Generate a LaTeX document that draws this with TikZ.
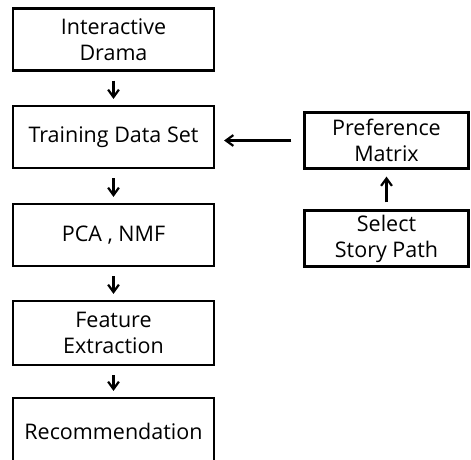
\documentclass[tikz,border=0pt]{standalone}
\usepackage{fontspec}
\setmainfont{Open Sans}
\usepackage{tikz}
\usetikzlibrary{arrows.meta,positioning}
\definecolor{ink}{RGB}{0,0,0}
\tikzset{
  blk/.style={draw=ink,line width=2.2pt,align=center,inner sep=0pt,
    font=\fontsize{21.5}{26}\selectfont},
  ar/.style={-{Straight Barb[length=2.6mm,width=3.8mm]},line width=2.2pt},
}

\begin{document}
\begin{tikzpicture}[x=1pt,y=-1pt,
  lbox/.style={blk,minimum width=201pt,minimum height=62pt},
  rbox/.style={blk,minimum width=164pt,minimum height=56pt}]
  \useasboundingbox (0,0) rectangle (471,460);
  % left column : main flow
  \node[lbox] (drama) at (113.5,39.5) {Interactive\\Drama};
  \node[lbox] (train) at (113.5,137)  {Training Data Set};
  \node[lbox] (pca)   at (113.5,235)  {PCA , NMF};
  \node[lbox,minimum height=64pt] (feat) at (113.5,333) {Feature\\Extraction};
  \node[lbox,minimum height=66pt] (rec)  at (113.5,431) {Recommendation};
  % right column : preference input
  \node[rbox] (pref) at (386.5,140.5) {Preference\\Matrix};
  \node[rbox] (sel)  at (386.5,238.5) {Select\\Story Path};
  % edges
  \draw[ar,shorten <=9pt,shorten >=6pt] (drama) -- (train);
  \draw[ar,shorten <=9pt,shorten >=6pt] (train) -- (pca);
  \draw[ar,shorten <=9pt,shorten >=6pt] (pca) -- (feat);
  \draw[ar,shorten <=9pt,shorten >=6pt] (feat) -- (rec);
  \draw[ar,shorten <=12pt,shorten >=9pt] (pref) -- (pref -| train.east);
  \draw[ar,shorten <=7pt,shorten >=7pt] (sel) -- (pref);
\end{tikzpicture}
\end{document}
